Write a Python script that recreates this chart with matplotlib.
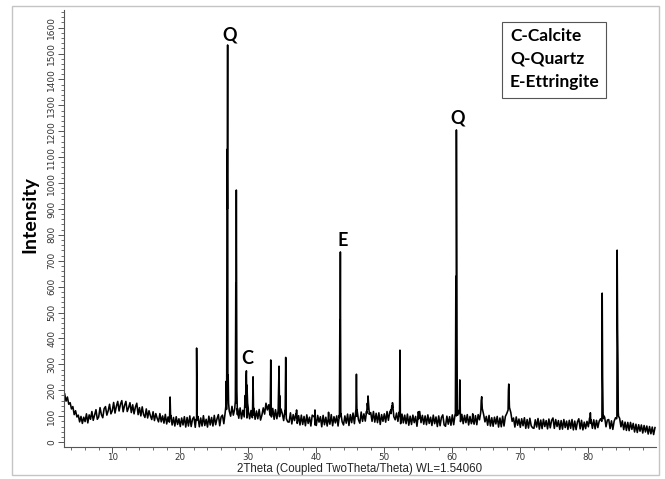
import numpy as np
import matplotlib
matplotlib.use("Agg")
import matplotlib.pyplot as plt
from matplotlib.ticker import MultipleLocator
from matplotlib.patches import Rectangle

# ---- data ----
# background scan, 0.2 deg step from 3.0 to 89.8
bg_start, bg_step = 3.0, 0.2
bg_intensity = [
    186,158,174,146,152, 128,137,106,121,97, 104,78,99,72,96, 79,109,74,105,88,
    118,84,104,125,88, 97,133,106,94,129, 137,104,121,146,109, 121,153,112,138,157,
    120,146,160,117,141, 157,118,133,152,114, 144,109,135,150,106, 133,101,136,106,95,
    128,93,121,102,87, 117,83,110,92,78, 110,78,101,73,107, 70,97,77,103,66,
    95,62,98,68,90, 60,93,66,98,58, 95,62,101,60,89, 97,57,84,99,59,
    93,62,102,64,88, 58,100,66,95,62, 103,67,90,106,63, 97,104,71,114,126,
    162,120,100,138,104, 128,150,106,92,132, 90,123,97,134,93, 129,90,122,94,131,
    88,120,90,126,85, 104,132,108,150,124, 144,104,97,130,88, 125,90,133,98,128,
    110,83,122,90,78, 77,113,70,106,83, 110,72,102,66,104, 68,99,63,105,72,
    96,62,104,100,66, 64,103,77,98,59, 103,67,96,62,106, 69,106,63,98,74,
    101,62,104,106,78, 66,101,73,108,64, 106,75,112,71,119, 123,86,73,116,80,
    109,81,120,128,107, 114,80,118,77,111, 75,113,68,106,80, 109,77,118,84,116,
    125,133,98,86,112, 80,116,71,108,74, 104,71,108,65,100, 68,104,75,99,61,
    106,118,75,103,69, 101,67,105,72,96, 64,104,71,97,60, 101,63,95,105,66,
    61,100,69,98,65, 105,67,106,101,104, 122,79,107,71,103, 75,106,66,99,71,
    109,69,102,67,106, 86,122,130,107,78, 99,65,103,62,94, 61,96,70,99,58,
    93,59,100,62,99, 110,124,134,114,80, 93,58,97,65,89, 57,90,63,94,53,
    87,54,92,63,55, 53,86,58,91,50, 85,52,88,60,83, 51,89,55,84,93,
    53,87,60,83,49, 83,50,87,56,81, 49,84,53,87,47, 81,48,78,90,51,
    84,47,77,52,80, 59,94,86,53,86, 51,84,56,81,90, 102,104,96,59,85,
    87,52,82,49,81, 94,97,116,92,59, 82,48,77,45,76, 44,76,49,72,39,
    69,37,67,42,66, 35,64,39,62,31, 60,32,58,29,56,
]
bg_2theta = [round(bg_start + bg_step * i, 2) for i in range(len(bg_intensity))]

# diffraction peaks (2theta, intensity) points
peak_2theta = [
    18.42, 18.50, 18.58,
    22.33, 22.40, 22.47,
    26.70, 26.76, 26.82, 26.88, 26.92, 26.96, 27.04, 27.10,
    28.10, 28.16, 28.20, 28.24, 28.32, 28.40,
    29.45, 29.55, 29.65, 29.72, 29.80, 29.90, 30.00,
    30.62, 30.70, 30.78,
    33.22, 33.30, 33.38,
    34.38, 34.45, 34.52, 34.60, 34.70,
    35.42, 35.50, 35.58,
    37.05, 37.10, 37.15,
    39.75, 39.80, 39.85,
    41.75, 41.80, 41.85,
    43.40, 43.46, 43.50, 43.54, 43.62,
    45.82, 45.90, 45.98,
    47.40, 47.50, 47.60, 47.70, 47.80,
    51.00, 51.10, 51.20, 51.30,
    52.24, 52.30, 52.36,
    54.95, 55.00, 55.05,
    60.45, 60.52, 60.56, 60.60, 60.68,
    61.02, 61.10, 61.18,
    62.95, 63.00, 63.05,
    64.15, 64.25, 64.32, 64.40,
    68.15, 68.25, 68.30, 68.38,
    80.22, 80.30, 80.38,
    81.98, 82.04, 82.10, 82.18,
    84.16, 84.24, 84.30, 84.36, 84.44,
]
peak_intensity = [
    90, 174, 92,
    88, 363, 86,
    140, 235, 180, 1130, 900, 1533, 260, 150,
    160, 614, 500, 973, 200, 130,
    130, 180, 240, 275, 220, 150, 120,
    110, 252, 105,
    110, 317, 105,
    120, 200, 293, 180, 110,
    110, 327, 100,
    95, 124, 90,
    95, 124, 90,
    90, 115, 88,
    95, 471, 400, 734, 110,
    100, 262, 100,
    110, 150, 178, 140, 110,
    110, 140, 152, 125,
    100, 355, 98,
    95, 117, 90,
    110, 640, 500, 1205, 140,
    110, 240, 105,
    90, 108, 85,
    110, 160, 175, 130,
    120, 200, 224, 150,
    75, 113, 72,
    80, 575, 250, 90,
    90, 741, 440, 300, 100,
]

# phase labels
label_text = ["Q", "C", "E", "Q"]
label_2theta = [27.3, 29.8, 43.9, 60.8]
label_intensity = [1571, 324, 780, 1251]

legend_lines = ["C-Calcite", "Q-Quartz", "E-Ettringite"]

# ---- combine ----
tt = np.array(bg_2theta + peak_2theta)
ii = np.array(bg_intensity + peak_intensity)
order = np.argsort(tt, kind="stable")
tt, ii = tt[order], ii[order]

W, H = 665, 479
fig = plt.figure(figsize=(W / 100, H / 100), dpi=100)
fig.patch.set_facecolor("white")

# outer frame
fig.add_artist(Rectangle((12 / W, 1 - 475 / H), (659 - 12) / W, (475 - 6) / H,
                         transform=fig.transFigure, fill=False,
                         edgecolor="#c4c4c4", lw=1.0))

ax = fig.add_axes([64 / W, 1 - 447 / H, (656 - 64) / W, (447 - 10) / H])
ax.plot(tt, ii, color="black", lw=1.15)

ax.set_xlim(2.9, 89.95)
ax.set_ylim(-19, 1668)
for s in ("top", "right"):
    ax.spines[s].set_visible(False)
for s in ("left", "bottom"):
    ax.spines[s].set_color("#555555")
    ax.spines[s].set_linewidth(0.8)

ax.xaxis.set_major_locator(MultipleLocator(10))
ax.xaxis.set_minor_locator(MultipleLocator(2))
ax.yaxis.set_major_locator(MultipleLocator(100))
ax.yaxis.set_minor_locator(MultipleLocator(20))
ax.tick_params(axis="both", which="major", length=4, width=0.7, color="#555555",
               labelsize=6.5, labelcolor="#333333", pad=1.5)
ax.tick_params(axis="x", which="major", pad=0.3, labelsize=6.3)
ax.tick_params(axis="both", which="minor", length=2.5, width=0.6, color="#555555")
ax.tick_params(axis="y", labelrotation=90)
ax.set_yticks(np.arange(0, 1700, 100))
for lab in ax.get_yticklabels():
    lab.set_va("center")

ax.set_xlabel("2Theta (Coupled TwoTheta/Theta) WL=1.54060",
              fontsize=8.3, color="#222222", family="Liberation Sans")
ax.xaxis.set_label_coords(0.5, -0.036)
fig.text(30 / W, 1 - 215 / H, "Intensity", rotation=90, ha="center", va="center",
         fontsize=14, fontweight="bold", family="Lato")

for t, x, y in zip(label_text, label_2theta, label_intensity):
    ax.text(x, y, t, ha="center", va="center", fontsize=13, fontweight="bold",
            family="Lato")

# legend box
fig.add_artist(Rectangle((502 / W, 1 - 98 / H), (606 - 502) / W, (98 - 22) / H,
                         transform=fig.transFigure, fill=True, facecolor="white",
                         edgecolor="#555555", lw=0.8))
for k, line in enumerate(legend_lines):
    fig.text(510 / W, 1 - (36 + 23 * k) / H, line, ha="left", va="center",
             fontsize=12.5, fontweight="bold", family="Lato")

fig.savefig("out.png", dpi=100)
